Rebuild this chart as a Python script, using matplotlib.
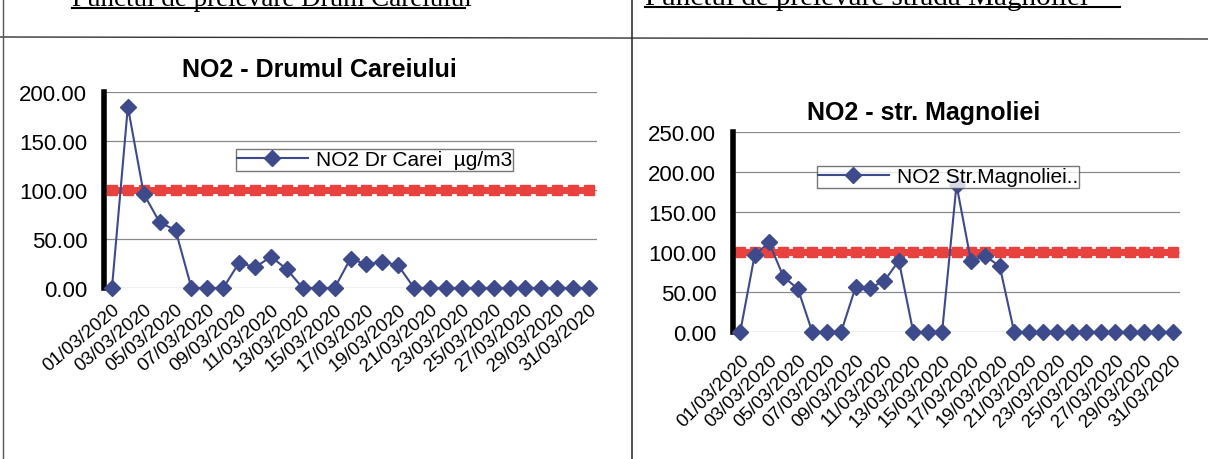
import matplotlib
matplotlib.use("Agg")
import matplotlib.pyplot as plt
from matplotlib.lines import Line2D

plt.rcParams['font.family'] = ['Liberation Sans', 'DejaVu Sans']

# date zilnice martie 2020
zile = ['%02d/03/2020' % d for d in range(1, 32)]

no2_careiului = [0, 185, 96, 67, 59, 0, 0, 0, 26, 21, 32, 19, 0, 0, 0, 30, 24,
                 27, 23, 0, 0, 0, 0, 0, 0, 0, 0, 0, 0, 0, 0]
no2_magnoliei = [0, 96, 112, 69, 54, 0, 0, 0, 56, 55, 64, 89, 0, 0, 0, 184, 89,
                 95, 82, 0, 0, 0, 0, 0, 0, 0, 0, 0, 0, 0, 0]
limita = [100] * 31

BLUE = '#3d4a8c'
RED = '#e8423f'

fig = plt.figure(figsize=(12.08, 4.6), dpi=100)

def px(x0, y0, x1, y1):
    # coordonate in pixeli (de sus) -> fractie figura
    return [x0 / 1208, 1 - y1 / 460, (x1 - x0) / 1208, (y1 - y0) / 460]

def grafic(rect, valori, titlu, eticheta, ymax, pas, leg_rect, titlu_xy, fs_date, rot, pad):
    ax = fig.add_axes(rect)
    x = list(range(len(valori)))
    ax.plot(x, limita, color=RED, lw=5, marker='s', ms=7, mfc=RED, mec=RED, zorder=2)
    ax.plot(x, valori, color=BLUE, lw=1.5, marker='D', ms=8, mfc=BLUE, mec=BLUE, zorder=3,
            clip_on=False)
    ax.set_xlim(-0.5, len(valori) - 0.5)
    ax.set_ylim(0, ymax)
    ax.set_yticks(range(0, ymax + 1, pas))
    ax.set_yticklabels(['%.2f' % v for v in range(0, ymax + 1, pas)], fontsize=16)
    ax.set_xticks(x[::2])
    ax.set_xticklabels(zile[::2], rotation=rot, ha='right', rotation_mode='anchor',
                       fontsize=fs_date)
    ax.tick_params(axis='y', length=0, pad=12)
    ax.tick_params(axis='x', length=0, pad=pad)
    ax.yaxis.grid(True, color='#8a8a8a', lw=0.9)
    ax.set_axisbelow(True)
    for s in ['top', 'right', 'bottom']:
        ax.spines[s].set_visible(False)
    ax.spines['left'].set_linewidth(4)
    ax.spines['left'].set_color('black')
    fig.text(titlu_xy[0] / 1208, 1 - titlu_xy[1] / 460, titlu, fontsize=18, fontweight='bold',
             ha='center', va='center')
    h = Line2D([], [], color=BLUE, lw=1.5, marker='D', ms=8)
    leg = fig.legend([h], [eticheta], loc='center', bbox_to_anchor=leg_rect, fontsize=15,
                     frameon=True, fancybox=False, handlelength=3.4, borderpad=0.05,
                     handletextpad=0.4, borderaxespad=0)
    leg.get_frame().set_edgecolor('#555555')
    leg.get_frame().set_linewidth(1)
    return ax

grafic(px(104, 93, 597, 289), no2_careiului, 'NO2 - Drumul Careiului',
       'NO2 Dr Carei  \u00b5g/m3', 200, 50, px(222, 152, 527, 170), (319, 70), 13.5, 40, 9)
grafic(px(733, 133, 1180, 333), no2_magnoliei, 'NO2 - str. Magnoliei',
       'NO2 Str.Magnoliei..', 250, 50, px(808, 169, 1088, 187), (924, 113), 13.5, 45, 14)

# tabelul din document scanat
fig.add_artist(Line2D([0, 1], [1 - 38 / 460, 1 - 40 / 460], color='#333333', lw=1))
fig.add_artist(Line2D([3 / 1208, 3 / 1208], [0, 1], color='#555555', lw=1))
fig.add_artist(Line2D([632 / 1208, 632 / 1208], [0, 1], color='#333333', lw=1.2))

fig.text(72 / 1208, 1 - 6 / 460, 'Punctul de prelevare Drum Careiului', family='Liberation Serif',
         fontsize=19.5, ha='left', va='baseline')
fig.add_artist(Line2D([72 / 1208, 465 / 1208], [1 - 9 / 460, 1 - 9 / 460], color='black', lw=1.5))
fig.text(645 / 1208, 1 - 5 / 460, 'Punctul de prelevare strada Magnoliei', family='Liberation Serif',
         fontsize=21, ha='left', va='baseline')
fig.add_artist(Line2D([645 / 1208, 1120 / 1208], [1 - 8 / 460, 1 - 8 / 460], color='black', lw=1.5))

fig.savefig('out.png', dpi=100)
